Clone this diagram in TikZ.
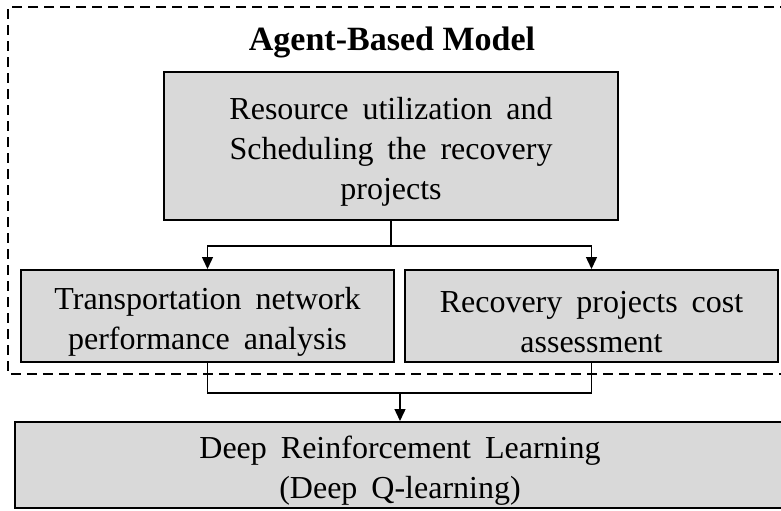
\documentclass[tikz,border=0pt]{standalone}
\usepackage{fontspec}
\setmainfont{Liberation Serif}
\usetikzlibrary{arrows.meta, positioning}
\definecolor{boxgray}{RGB}{217,217,217}
\newcommand{\wordgap}{\spaceskip=7pt plus 1pt\relax}
\newcommand{\topstrut}{\rule{0pt}{17pt}}

\begin{document}
\begin{tikzpicture}[
    x=0.5pt, y=-0.5pt,
    block/.style={rectangle, draw, line width=1pt, fill=boxgray, inner sep=0pt, align=center,
        font=\fontsize{16}{20}\selectfont\wordgap},
    frame/.style={draw, line width=0.9pt, dash pattern=on 5pt off 3pt},
    arrow/.style={-{Triangle[length=6pt, width=5.5pt]}, line width=0.7pt},
    link/.style={line width=0.7pt}
]
    \useasboundingbox (0,0) rectangle (781,510);
    % dashed frame of the agent-based model
    \draw[frame] (790,7) -- (8,7) -- (8,374) -- (790,374);
    \node[font=\fontsize{17}{20}\selectfont\bfseries, anchor=base] (abm) at (392,50) {Agent-Based Model};

    \node[block, minimum width=227pt, minimum height=74pt] (sched) at (391,146) {\topstrut Resource utilization and\\Scheduling the recovery\\projects};
    \node[block, minimum width=186.5pt, minimum height=46pt] (transp) at (207.5,316) {\topstrut Transportation network\\performance analysis};
    \node[block, minimum width=186.5pt, minimum height=46pt, right=4.5pt of transp] (cost) {\topstrut Recovery projects cost\\assessment};
    \node[block, minimum width=385pt, minimum height=43pt] (drl) at (400,465) {\topstrut Deep Reinforcement Learning\\(Deep Q-learning)};

    \coordinate[below=12.5pt of sched.south] (split);
    \coordinate[below=15pt of transp.south] (join);

    \draw[arrow] (sched.south) -- (split) -| (transp.north);
    \draw[arrow] (split) -| (cost.north);
    \draw[link] (transp.south) -- (join) -| (cost.south);
    \draw[arrow] (join -| drl.north) -- (drl.north);
\end{tikzpicture}
\end{document}
